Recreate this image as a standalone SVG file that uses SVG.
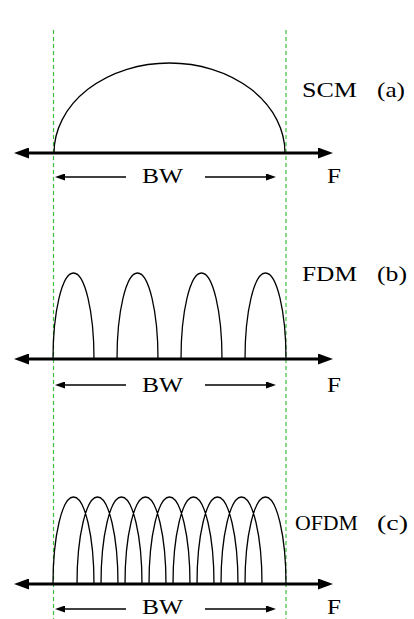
<svg xmlns="http://www.w3.org/2000/svg" width="414" height="619" viewBox="0 0 414 619">
<defs>
<marker id="big" viewBox="0 0 15 11" refX="1" refY="5.5" markerWidth="15" markerHeight="11" markerUnits="userSpaceOnUse" orient="auto-start-reverse">
<path d="M0,0 L15,5.5 L0,11 z" fill="#000"/>
</marker>
<marker id="small" viewBox="0 0 10 7" refX="1" refY="3.5" markerWidth="10" markerHeight="7" markerUnits="userSpaceOnUse" orient="auto">
<path d="M0,0 L10,3.5 L0,7 z" fill="#000"/>
</marker>
</defs>
<style>
.guide{stroke:#3cbf3c;stroke-width:1.2;stroke-dasharray:4 3;fill:none}
.axis{stroke:#000;stroke-width:3;fill:none;marker-start:url(#big);marker-end:url(#big)}
.bw{stroke:#000;stroke-width:1.4;fill:none;marker-end:url(#small)}
.curve{stroke:#000;stroke-width:1.3;fill:none}
text{font-family:"Liberation Serif","Times New Roman",serif;font-size:21px;fill:#000}
</style>
<rect width="414" height="619" fill="#fff"/>
<g id="guides">
<line class="guide" x1="53.5" y1="30" x2="53.5" y2="619"/>
<line class="guide" x1="286" y1="30" x2="286" y2="619"/>
</g>
<g id="scm">
<path class="curve" d="M54,153 A115.5,90 0 0 1 285,153"/>
<text x="302" y="97" textLength="55" lengthAdjust="spacingAndGlyphs">SCM</text>
<text x="377" y="97" textLength="28" lengthAdjust="spacingAndGlyphs">(a)</text>
<text x="142" y="183" textLength="41" lengthAdjust="spacingAndGlyphs">BW</text>
<text x="327" y="183" textLength="14" lengthAdjust="spacingAndGlyphs">F</text>
</g>
<g id="fdm">
<path class="curve" d="M53,359 A20.5,86 0 0 1 94,359 M117,359 A20.5,86 0 0 1 158,359 M181,359 A20.5,86 0 0 1 222,359 M245,359 A20.5,86 0 0 1 286,359"/>
<text x="302" y="281" textLength="55" lengthAdjust="spacingAndGlyphs">FDM</text>
<text x="377" y="281" textLength="30" lengthAdjust="spacingAndGlyphs">(b)</text>
<text x="142" y="392" textLength="41" lengthAdjust="spacingAndGlyphs">BW</text>
<text x="327" y="392" textLength="14" lengthAdjust="spacingAndGlyphs">F</text>
</g>
<g id="ofdm">
<path class="curve" d="M53,584 A20.5,87 0 0 1 94,584 M77,584 A20.5,87 0 0 1 118,584 M101,584 A20.5,87 0 0 1 142,584 M125,584 A20.5,87 0 0 1 166,584 M149,584 A20.5,87 0 0 1 190,584 M173,584 A20.5,87 0 0 1 214,584 M197,584 A20.5,87 0 0 1 238,584 M221,584 A20.5,87 0 0 1 262,584 M245,584 A20.5,87 0 0 1 286,584"/>
<text x="295" y="530" textLength="63" lengthAdjust="spacingAndGlyphs">OFDM</text>
<text x="377" y="530" textLength="31" lengthAdjust="spacingAndGlyphs">(c)</text>
<text x="142" y="614" textLength="41" lengthAdjust="spacingAndGlyphs">BW</text>
<text x="327" y="614" textLength="14" lengthAdjust="spacingAndGlyphs">F</text>
</g>
<g id="connectors">
<line class="axis" x1="28" y1="153" x2="319" y2="153"/>
<line class="axis" x1="28" y1="359" x2="319" y2="359"/>
<line class="axis" x1="28" y1="584" x2="319" y2="584"/>
<line class="bw" x1="126" y1="177" x2="64" y2="177"/>
<line class="bw" x1="205" y1="177" x2="267" y2="177"/>
<line class="bw" x1="126" y1="385" x2="64" y2="385"/>
<line class="bw" x1="205" y1="385" x2="267" y2="385"/>
<line class="bw" x1="126" y1="609" x2="64" y2="609"/>
<line class="bw" x1="205" y1="609" x2="267" y2="609"/>
</g>
</svg>
